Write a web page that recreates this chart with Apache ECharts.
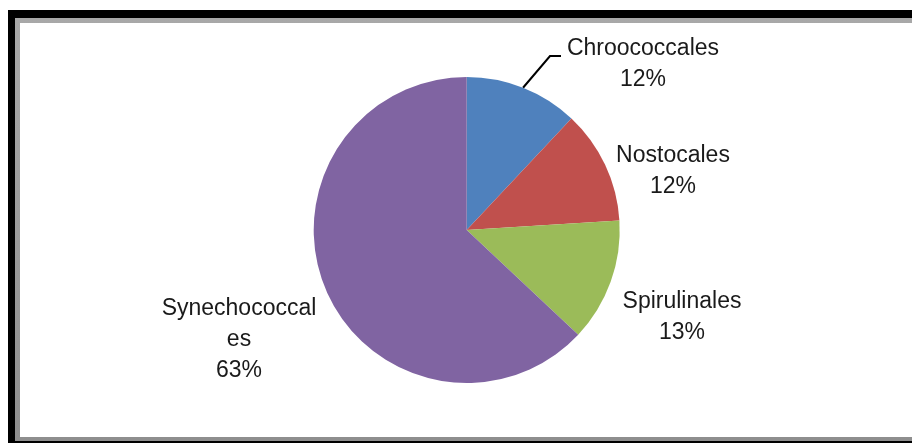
<!DOCTYPE html>
<html>
<head>
<meta charset="utf-8">
<script src="https://cdn.jsdelivr.net/npm/echarts@6/dist/echarts.min.js"></script>
<style>
  html, body { margin: 0; padding: 0; background: #fff; overflow: hidden; }
  #outer { position: absolute; left: 8px; top: 10px; width: 1000px; height: 1000px; background: #000; }
  #inner { position: absolute; left: 15px; top: 18px; width: 1000px; height: 423px;
           background: linear-gradient(#a8a8a8, #8e8e8e); }
  #paper { position: absolute; left: 20px; top: 23px; width: 1000px; height: 414px; background: #fff; }
  #chart { position: absolute; left: 0; top: 0; width: 912px; height: 443px; }
</style>
</head>
<body>
<div id="outer"></div>
<div id="inner"></div>
<div id="paper"></div>
<div id="chart"></div>
<script>
// Share of cyanobacterial orders
const orders = ['Chroococcales', 'Nostocales', 'Spirulinales', 'Synechococcales'];
const shares = [12, 12, 13, 63];
const sliceColors = ['#4F81BD', '#C0504D', '#9BBB59', '#8064A2'];

// Label anchor points (centre of each text block) and the elbow of the leader line
const labelSpots = [
  { x: 643, y: 64 },
  { x: 673, y: 171 },
  { x: 682, y: 317 },
  { x: 239, y: 340 }
];
const leaderElbow = [[550, 56], [561, 56]];

// Wrap long names the way a narrow label box would
function wrapName(name, maxChars) {
  const parts = [];
  for (let i = 0; i < name.length; i += maxChars) parts.push(name.slice(i, i + maxChars));
  return parts.join('\n');
}

const chart = echarts.init(document.getElementById('chart'), null, { renderer: 'canvas' });
chart.setOption({
  animation: false,
  backgroundColor: 'transparent',
  color: sliceColors,
  series: [{
    type: 'pie',
    center: [466.7, 230],
    radius: 153,
    startAngle: 90,
    clockwise: true,
    percentPrecision: 0,
    itemStyle: { borderWidth: 0 },
    emphasis: { disabled: true },
    data: orders.map((name, i) => ({
      name: name,
      value: shares[i],
      labelLine: { show: i === 0 }
    })),
    label: {
      show: true,
      position: 'outside',
      fontFamily: 'Liberation Sans',
      fontSize: 23,
      lineHeight: 31,
      color: '#1a1a1a',
      align: 'center',
      formatter: p => wrapName(p.name, 13) + '\n' + p.percent + '%'
    },
    labelLine: {
      length: 20,
      length2: 10,
      lineStyle: { color: '#000', width: 2 }
    },
    labelLayout: function (params) {
      const spot = labelSpots[params.dataIndex];
      const out = { x: spot.x, y: spot.y, align: 'center', verticalAlign: 'middle' };
      if (params.dataIndex === 0 && params.labelLinePoints) {
        out.labelLinePoints = [params.labelLinePoints[0]].concat(leaderElbow);
      }
      return out;
    }
  }]
});
</script>
</body>
</html>
